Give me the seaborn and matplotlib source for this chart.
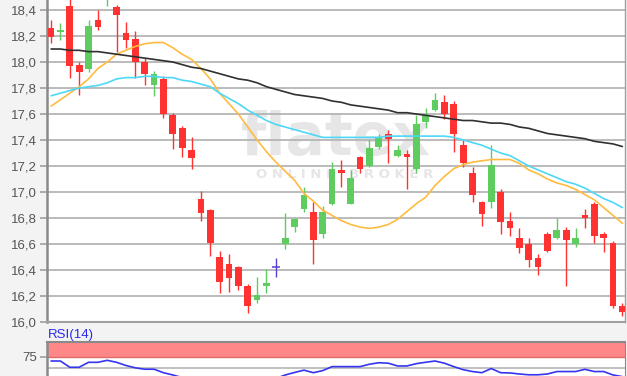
import numpy as np
import pandas as pd
import seaborn as sns
import matplotlib.pyplot as plt
from matplotlib.ticker import FuncFormatter

# daily candles (62 sessions)
opens = [18.26, 18.23, 18.43, 17.98, 17.95, 18.32, 18.52, 18.42, 18.22, 18.18,
         18.00, 17.82, 17.87, 17.59, 17.49, 17.32, 16.95, 16.86, 16.50, 16.45,
         16.42, 16.28, 16.17, 16.28, 16.42, 16.60, 16.73, 16.87, 16.85, 16.68,
         16.91, 17.17, 16.91, 17.27, 17.20, 17.35, 17.45, 17.28, 17.29, 17.18,
         17.54, 17.63, 17.69, 17.68, 17.36, 17.15, 16.92, 16.92, 17.00, 16.78,
         16.65, 16.60, 16.49, 16.68, 16.65, 16.71, 16.60, 16.82, 16.91, 16.68,
         16.61, 16.12]
highs = [18.32, 18.30, 18.50, 18.00, 18.32, 18.40, 18.62, 18.44, 18.31, 18.24,
         18.03, 17.93, 17.89, 17.61, 17.51, 17.42, 17.01, 16.87, 16.55, 16.52,
         16.43, 16.29, 16.35, 16.41, 16.49, 16.84, 16.80, 17.04, 16.92, 16.89,
         17.23, 17.25, 17.17, 17.28, 17.40, 17.45, 17.48, 17.36, 17.32, 17.59,
         17.65, 17.76, 17.75, 17.70, 17.40, 17.19, 16.93, 17.36, 17.02, 16.85,
         16.72, 16.65, 16.52, 16.69, 16.80, 16.73, 16.72, 16.87, 16.92, 16.69,
         16.62, 16.15]
lows = [18.15, 18.17, 17.88, 17.75, 17.92, 18.25, 18.43, 18.08, 18.11, 17.88,
        17.82, 17.74, 17.57, 17.33, 17.27, 17.18, 16.78, 16.51, 16.22, 16.23,
        16.25, 16.07, 16.15, 16.22, 16.35, 16.56, 16.69, 16.85, 16.45, 16.65,
        16.90, 17.04, 16.91, 17.15, 17.19, 17.33, 17.22, 17.27, 17.02, 17.15,
        17.49, 17.62, 17.56, 17.31, 17.19, 16.92, 16.74, 16.88, 16.68, 16.66,
        16.53, 16.42, 16.36, 16.54, 16.64, 16.28, 16.58, 16.72, 16.61, 16.54,
        16.11, 16.05]
closes = [18.19, 18.25, 17.97, 17.92, 18.28, 18.27, 18.58, 18.36, 18.17, 18.00,
          17.91, 17.91, 17.60, 17.45, 17.34, 17.26, 16.84, 16.61, 16.31, 16.34,
          16.28, 16.12, 16.21, 16.30, 16.42, 16.65, 16.79, 16.98, 16.63, 16.85,
          17.18, 17.15, 17.11, 17.18, 17.34, 17.42, 17.41, 17.32, 17.27, 17.52,
          17.59, 17.71, 17.60, 17.45, 17.22, 16.98, 16.83, 17.21, 16.77, 16.72,
          16.57, 16.48, 16.42, 16.55, 16.71, 16.63, 16.65, 16.80, 16.66, 16.65,
          16.12, 16.08]

# moving averages as drawn on the chart
ma_fast = [17.66, 17.71, 17.76, 17.81, 17.87, 17.95, 18.00, 18.06, 18.09, 18.12,
           18.14, 18.15, 18.15, 18.11, 18.06, 18.02, 17.95, 17.87, 17.76, 17.68,
           17.60, 17.50, 17.40, 17.31, 17.23, 17.16, 17.09, 16.99, 16.93, 16.86,
           16.82, 16.78, 16.75, 16.73, 16.72, 16.73, 16.75, 16.79, 16.85, 16.91,
           16.96, 17.05, 17.12, 17.18, 17.21, 17.23, 17.24, 17.25, 17.25, 17.25,
           17.22, 17.17, 17.14, 17.10, 17.07, 17.05, 17.02, 16.98, 16.94, 16.88,
           16.82, 16.76]
ma_mid = [17.74, 17.76, 17.78, 17.80, 17.81, 17.82, 17.84, 17.87, 17.88, 17.88,
          17.89, 17.89, 17.88, 17.88, 17.86, 17.85, 17.83, 17.81, 17.76, 17.72,
          17.68, 17.63, 17.59, 17.55, 17.52, 17.50, 17.48, 17.46, 17.44, 17.42,
          17.42, 17.42, 17.42, 17.42, 17.42, 17.42, 17.43, 17.43, 17.43, 17.43,
          17.43, 17.43, 17.43, 17.42, 17.40, 17.38, 17.36, 17.33, 17.30, 17.28,
          17.24, 17.20, 17.17, 17.14, 17.11, 17.08, 17.06, 17.03, 16.99, 16.95,
          16.92, 16.88]
ma_slow = [18.10, 18.10, 18.09, 18.09, 18.08, 18.08, 18.07, 18.06, 18.05, 18.04,
           18.03, 18.02, 18.01, 18.00, 17.98, 17.96, 17.95, 17.93, 17.91, 17.89,
           17.87, 17.86, 17.84, 17.81, 17.79, 17.77, 17.75, 17.74, 17.73, 17.72,
           17.70, 17.69, 17.67, 17.66, 17.65, 17.64, 17.63, 17.61, 17.61, 17.60,
           17.59, 17.58, 17.57, 17.56, 17.55, 17.55, 17.54, 17.53, 17.53, 17.52,
           17.50, 17.49, 17.47, 17.45, 17.44, 17.43, 17.42, 17.41, 17.39, 17.38,
           17.37, 17.35]
rsi14 = [65.7, 65.7, 52.2, 52.2, 62.9, 62.9, 67.2, 62.9, 56.0, 51.0,
         48.0, 48.0, 40.5, 35.6, 30.0, 28.0, 22.0, 18.0, 14.0, 14.0,
         14.0, 12.0, 15.0, 20.0, 28.0, 35.6, 41.0, 46.0, 40.5, 45.0,
         53.6, 53.6, 53.6, 53.6, 58.8, 62.0, 61.0, 55.0, 55.0, 60.0,
         63.0, 65.7, 61.0, 53.6, 47.0, 43.0, 40.5, 49.5, 40.5, 40.0,
         37.7, 36.0, 36.0, 37.7, 43.0, 43.0, 43.0, 47.8, 43.0, 43.0,
         35.6, 32.0]

df = pd.DataFrame({"open": opens, "high": highs, "low": lows, "close": closes,
                   "ma_fast": ma_fast, "ma_mid": ma_mid, "ma_slow": ma_slow,
                   "rsi": rsi14})
df["idx"] = np.arange(len(df))

sns.set_style("white")
plt.rcParams['font.family'] = ['Liberation Sans', 'DejaVu Sans']

fig = plt.figure(figsize=(6.27, 3.76), dpi=100, facecolor='#f3f3f3')
ax = fig.add_axes([0.075, 0.1436, 0.9218, 0.8564])
ax_rsi = fig.add_axes([0.075, -0.0412, 0.9218, 0.1324])

# candles
red, green, purple = '#ff3131', '#5fcc5f', '#5a3fd1'
colors = np.where(df.close > df.open, green,
                  np.where(df.close < df.open, red, purple))
ax.vlines(df.idx, df.low, df.high, colors=colors, lw=1.0, zorder=3)
ax.bar(df.idx, (df.close - df.open).abs(),
       bottom=df[["open", "close"]].min(axis=1),
       width=0.72, color=colors, linewidth=0, zorder=4)
doji = df[df.close == df.open]
ax.hlines(doji.close, doji.idx - 0.4, doji.idx + 0.4, colors=purple, lw=1.1, zorder=4)

# moving averages
sns.lineplot(data=df, x="idx", y="ma_fast", color='#ffbb40', lw=1.2, ax=ax, zorder=5)
sns.lineplot(data=df, x="idx", y="ma_mid", color='#4dd8f7', lw=1.2, ax=ax, zorder=5)
sns.lineplot(data=df, x="idx", y="ma_slow", color='#303030', lw=1.2, ax=ax, zorder=5)

# watermark
ax.text(0.5, 0.571, "flatex", transform=ax.transAxes, fontsize=42,
        fontweight='bold', color='#e6e6e6', ha='center', va='center',
        zorder=0.3, family=['DejaVu Sans'])
ax.text(0.515, 0.457, "O N L I N E   B R O K E R", transform=ax.transAxes,
        fontsize=9.5, fontweight='bold', color='#e6e6e6', ha='center',
        va='center', zorder=0.3, family=['DejaVu Sans'])

ax.set_xlim(-0.43, 61.28)
ax.set_ylim(16.0, 18.477)
ax.set_yticks(np.arange(16.0, 18.41, 0.2))
ax.yaxis.set_major_formatter(FuncFormatter(lambda v, p: f"{v:.1f}".replace('.', ',')))
ax.set_axisbelow(True)
ax.grid(axis='y', color='#b5b5b5', lw=1.3, zorder=1)
ax.tick_params(axis='y', length=5, width=1.2, color='#a0a0a0', labelsize=9.5,
               labelcolor='#555555', pad=2, left=True)
ax.tick_params(axis='x', bottom=False, labelbottom=False)
ax.set_xlabel("")
ax.set_ylabel("")
ax.spines['top'].set_visible(False)
ax.spines['left'].set_color('#8a8a8a')
ax.spines['left'].set_linewidth(1.8)
ax.spines['bottom'].set_color('#a0a0a0')
ax.spines['bottom'].set_linewidth(1.5)
ax.spines['right'].set_color('#a0a0a0')
ax.spines['right'].set_linewidth(1.0)

# RSI panel
ax_rsi.axhspan(75, 107.3, color='#ff8787', lw=0, zorder=1)
ax_rsi.axhline(75, color='#e06a6a', lw=1.0, zorder=2)
ax_rsi.axhline(50, color='#b5b5b5', lw=1.2, zorder=2)
sns.lineplot(data=df, x="idx", y="rsi", color='#3535f0', lw=1.2, ax=ax_rsi, zorder=3)
ax_rsi.set_xlim(-0.43, 61.28)
ax_rsi.set_ylim(0, 107.3)
ax_rsi.set_yticks([75])
ax_rsi.tick_params(axis='y', length=5, width=1.2, color='#a0a0a0', labelsize=9.5,
                   labelcolor='#555555', pad=2, left=True)
ax_rsi.tick_params(axis='x', bottom=False, labelbottom=False)
ax_rsi.set_xlabel("")
ax_rsi.set_ylabel("")
for side in ['top', 'left', 'right']:
    ax_rsi.spines[side].set_color('#8a8a8a')
ax_rsi.spines['top'].set_linewidth(1.5)
ax_rsi.spines['left'].set_linewidth(1.8)
fig.text(48 / 627, 1 - 335 / 376, "RSI(14)", color='#2a2af0', fontsize=9.5,
         ha='left', va='center')

fig.savefig("out.png", dpi=100, facecolor=fig.get_facecolor())
